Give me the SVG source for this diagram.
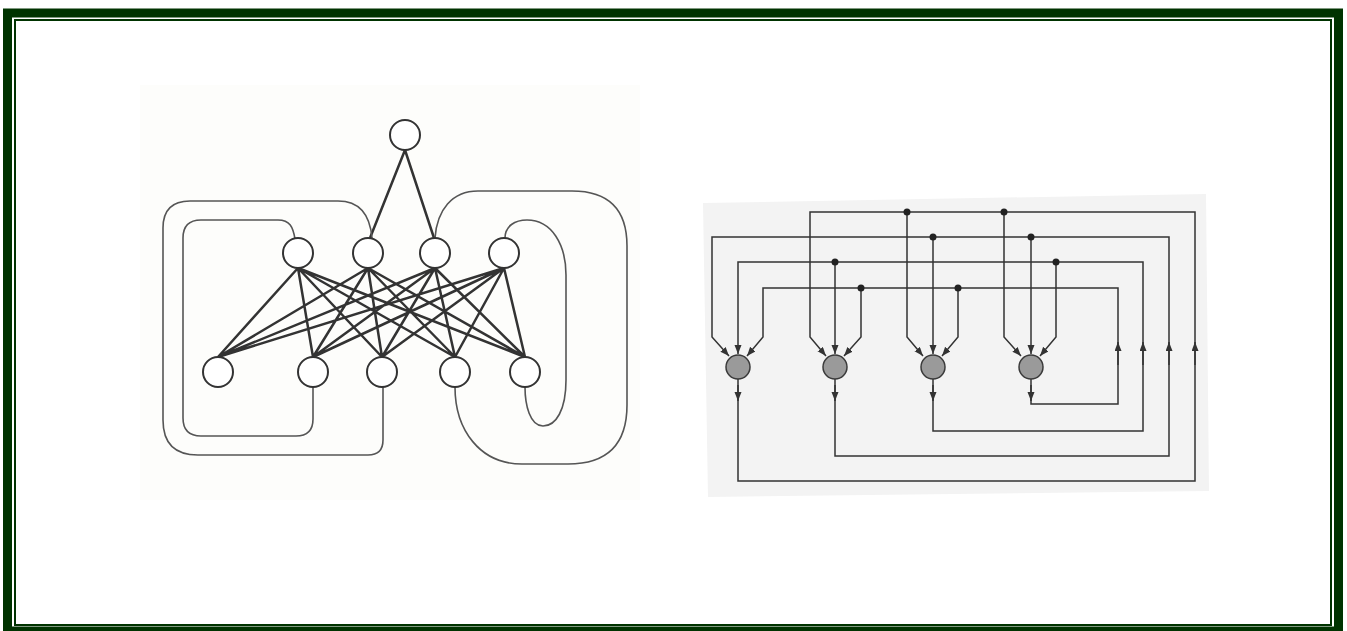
<svg xmlns="http://www.w3.org/2000/svg" width="1347" height="631" viewBox="0 0 1347 631">
<style>
.frame-outer{fill:none;stroke:#003300;stroke-width:9}
.frame-inner{fill:none;stroke:#003300;stroke-width:2}
.unit{fill:#fff;stroke:#333;stroke-width:2}
.edge{stroke:#333;stroke-width:2.5;fill:none}
.loop{stroke:#555;stroke-width:1.6;fill:none}
.wire{stroke:#333;stroke-width:1.5;fill:none}
.neuron{fill:#9a9a9a;stroke:#3a3a3a;stroke-width:1.5}
.dot{fill:#222}
</style>
<defs>
<marker id="arr" markerUnits="userSpaceOnUse" markerWidth="10" markerHeight="8" refX="9" refY="3.5" orient="auto">
<path d="M0,0 L9,3.5 L0,7 z" fill="#333"/>
</marker>
</defs>
<rect width="1347" height="631" fill="#fff"/>
<rect class="frame-outer" x="7.5" y="13" width="1331" height="618"/>
<rect class="frame-inner" x="15" y="20" width="1316" height="605"/>

<!-- Left diagram -->
<rect x="140" y="85" width="500" height="415" fill="#fdfdfb"/>
<g id="left-connectors">
<path class="edge" d="M405,150 L370,238 M405,150 L434,238"/>
<path class="edge" d="M298,268 L218,357 M298,268 L313,357 M298,268 L382,357 M298,268 L455,357 M298,268 L525,357
M368,268 L218,357 M368,268 L313,357 M368,268 L382,357 M368,268 L455,357 M368,268 L525,357
M435,268 L218,357 M435,268 L313,357 M435,268 L382,357 M435,268 L455,357 M435,268 L525,357
M504,268 L218,357 M504,268 L313,357 M504,268 L382,357 M504,268 L455,357 M504,268 L525,357"/>
<path class="loop" d="M295,239 C293,227 290,220 278,220 L201,220 Q183,220 183,238 L183,418 Q183,436 201,436 L296,436 Q313,436 313,419 L313,387"/>
<path class="loop" d="M372,238 C370,215 360,201 338,201 L190,201 Q163,201 163,228 L163,420 Q163,455 198,455 L368,455 Q383,455 383,440 L383,387"/>
<path class="loop" d="M435,238 C437,210 452,191 478,191 L572,191 Q627,191 627,246 L627,405 Q627,464 568,464 L522,464 C480,464 455,430 455,387"/>
<path class="loop" d="M505,238 C505,226 515,220 527,220 C552,220 566,245 566,275 L566,380 C566,410 556,426 543,426 C530,426 525,405 525,387"/>
</g>
<g id="node-top"><circle class="unit" cx="405" cy="135" r="15"/></g>
<g id="node-h1"><circle class="unit" cx="298" cy="253" r="15"/></g>
<g id="node-h2"><circle class="unit" cx="368" cy="253" r="15"/></g>
<g id="node-h3"><circle class="unit" cx="435" cy="253" r="15"/></g>
<g id="node-h4"><circle class="unit" cx="504" cy="253" r="15"/></g>
<g id="node-b1"><circle class="unit" cx="218" cy="372" r="15"/></g>
<g id="node-b2"><circle class="unit" cx="313" cy="372" r="15"/></g>
<g id="node-b3"><circle class="unit" cx="382" cy="372" r="15"/></g>
<g id="node-b4"><circle class="unit" cx="455" cy="372" r="15"/></g>
<g id="node-b5"><circle class="unit" cx="525" cy="372" r="15"/></g>

<!-- Right diagram -->
<polygon points="703,203 1206,194 1209,491 708,497" fill="#f3f3f3"/>
<g id="right-connectors">
<path class="wire" d="M738,379 L738,481 L1195,481 L1195,212 L810,212 L810,337 L826,356" marker-end="url(#arr)"/>
<path class="wire" d="M907,212 L907,337 L923,356" marker-end="url(#arr)"/>
<path class="wire" d="M1004,212 L1004,337 L1021,356" marker-end="url(#arr)"/>
<path class="wire" d="M835,379 L835,456 L1169,456 L1169,237 L712,237 L712,337 L729,356" marker-end="url(#arr)"/>
<path class="wire" d="M933,237 L933,354" marker-end="url(#arr)"/>
<path class="wire" d="M1031,237 L1031,354" marker-end="url(#arr)"/>
<path class="wire" d="M933,379 L933,431 L1143,431 L1143,262 L738,262 L738,354" marker-end="url(#arr)"/>
<path class="wire" d="M835,262 L835,354" marker-end="url(#arr)"/>
<path class="wire" d="M1056,262 L1056,337 L1040,356" marker-end="url(#arr)"/>
<path class="wire" d="M1031,379 L1031,404 L1118,404 L1118,288 L763,288 L763,337 L747,356" marker-end="url(#arr)"/>
<path class="wire" d="M861,288 L861,337 L844,356" marker-end="url(#arr)"/>
<path class="wire" d="M958,288 L958,337 L942,356" marker-end="url(#arr)"/>
<path class="wire" d="M738,385 L738,401" marker-end="url(#arr)"/>
<path class="wire" d="M835,385 L835,401" marker-end="url(#arr)"/>
<path class="wire" d="M933,385 L933,401" marker-end="url(#arr)"/>
<path class="wire" d="M1031,385 L1031,401" marker-end="url(#arr)"/>
<path class="wire" d="M1118,365 L1118,342" marker-end="url(#arr)"/>
<path class="wire" d="M1143,365 L1143,342" marker-end="url(#arr)"/>
<path class="wire" d="M1169,365 L1169,342" marker-end="url(#arr)"/>
<path class="wire" d="M1195,365 L1195,342" marker-end="url(#arr)"/>
<circle class="dot" cx="907" cy="212" r="3.5"/>
<circle class="dot" cx="1004" cy="212" r="3.5"/>
<circle class="dot" cx="933" cy="237" r="3.5"/>
<circle class="dot" cx="1031" cy="237" r="3.5"/>
<circle class="dot" cx="835" cy="262" r="3.5"/>
<circle class="dot" cx="1056" cy="262" r="3.5"/>
<circle class="dot" cx="861" cy="288" r="3.5"/>
<circle class="dot" cx="958" cy="288" r="3.5"/>
</g>
<g id="neuron-1"><circle class="neuron" cx="738" cy="367" r="12"/></g>
<g id="neuron-2"><circle class="neuron" cx="835" cy="367" r="12"/></g>
<g id="neuron-3"><circle class="neuron" cx="933" cy="367" r="12"/></g>
<g id="neuron-4"><circle class="neuron" cx="1031" cy="367" r="12"/></g>
</svg>
